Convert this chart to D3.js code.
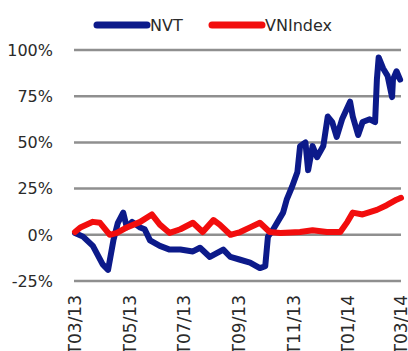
<!DOCTYPE html>
<html>
<head>
<meta charset="utf-8">
<script src="https://cdn.jsdelivr.net/npm/d3@7"></script>
<style>
  body { margin: 0; background: #fff; }
  text { font-family: "DejaVu Sans", sans-serif; fill: #2a2a2a; }
</style>
</head>
<body>
<script>
  // series values, % change since start
  var nvtDates = ["2013-03-01","2013-03-10","2013-03-21","2013-04-01","2013-04-07","2013-04-13","2013-04-18","2013-04-24","2013-04-28","2013-05-04","2013-05-13","2013-05-18","2013-05-24","2013-06-04","2013-06-15","2013-06-27","2013-07-11","2013-07-19","2013-07-30","2013-08-14","2013-08-22","2013-09-02","2013-09-13","2013-09-24","2013-09-30","2013-10-03","2013-10-09","2013-10-20","2013-10-24","2013-10-30","2013-11-05","2013-11-08","2013-11-14","2013-11-17","2013-11-22","2013-11-27","2013-12-04","2013-12-09","2013-12-14","2013-12-19","2013-12-25","2014-01-03","2014-01-06","2014-01-12","2014-01-17","2014-01-25","2014-01-31","2014-02-02","2014-02-04","2014-02-09","2014-02-14","2014-02-19","2014-02-20","2014-02-24","2014-02-28"];
  var nvtValues = [1,-1,-6,-16,-19,-3,6.5,12,4,7,4,3,-3,-6,-8,-8,-9,-7,-12,-8,-12,-13.5,-15,-18,-17,-1,3,12,19,26,34,48,50,35,48,42,48,64,61,53,62.5,72,64,54,61,62.5,61,84,96,90,86,74.5,84,88.5,84];

  var vniDates = ["2013-03-01","2013-03-07","2013-03-21","2013-03-29","2013-04-09","2013-04-17","2013-04-28","2013-05-13","2013-05-26","2013-06-04","2013-06-15","2013-06-27","2013-07-11","2013-07-22","2013-08-03","2013-08-10","2013-08-22","2013-09-02","2013-09-13","2013-09-24","2013-10-05","2013-10-17","2013-11-08","2013-11-22","2013-12-08","2013-12-23","2013-12-31","2014-01-06","2014-01-17","2014-02-02","2014-02-13","2014-02-24","2014-03-01"];
  var vniValues = [1.5,4,7,6.5,0,1,4,7,11,5.5,1,3,6.5,1.5,8,5.5,0,1.5,4,6.5,1.5,1,1.5,2.5,1.5,1.5,7,12,11,13.5,16,19,20];

  var yTicks = [-25,0,25,50,75,100];
  var xTicks = ["2013-03-01","2013-05-01","2013-07-01","2013-09-01","2013-11-01","2014-01-01","2014-03-01"];
  var seriesNames = ["NVT","VNIndex"];
  var colors = ["#0c1a8a","#f20d0d"];

  var width = 408, height = 351;
  var parse = d3.timeParse("%Y-%m-%d");

  var svg = d3.select("body").append("svg")
    .attr("width", width)
    .attr("height", height);

  var xScale = d3.scaleTime()
    .domain([parse("2013-03-01"), parse("2014-03-01")])
    .range([75, 401]);
  var yScale = d3.scaleLinear().domain([-25,100]).range([281,50]);

  // gridlines
  svg.append("g").selectAll("line")
    .data(yTicks)
    .enter().append("line")
    .attr("x1", 74).attr("x2", 401)
    .attr("y1", function(d){ return yScale(d); })
    .attr("y2", function(d){ return yScale(d); })
    .attr("stroke", "#8f8f8f")
    .attr("stroke-width", 2.5);

  // y labels
  svg.append("g").selectAll("text")
    .data(yTicks)
    .enter().append("text")
    .attr("x", 53)
    .attr("y", function(d){ return yScale(d); })
    .attr("dy", "0.36em")
    .attr("text-anchor", "end")
    .attr("font-size", "16px")
    .text(function(d){ return d + "%"; });

  // x labels, rotated
  var fmt = d3.timeFormat("T%m/%y");
  svg.append("g").selectAll("text")
    .data(xTicks.map(parse))
    .enter().append("text")
    .attr("transform", function(d){ return "translate(" + xScale(d) + ",295) rotate(-90)"; })
    .attr("dy", "0.36em")
    .attr("text-anchor", "end")
    .attr("font-size", "17px")
    .text(function(d){ return fmt(d); });

  var line = d3.line()
    .x(function(d){ return xScale(d[0]); })
    .y(function(d){ return yScale(d[1]); });

  var nvt = nvtDates.map(function(d, i){ return [parse(d), nvtValues[i]]; });
  var vni = vniDates.map(function(d, i){ return [parse(d), vniValues[i]]; });

  [nvt, vni].forEach(function(s, i) {
    svg.append("path")
      .datum(s)
      .attr("d", line)
      .attr("fill", "none")
      .attr("stroke", colors[i])
      .attr("stroke-width", 6)
      .attr("stroke-linejoin", "round")
      .attr("stroke-linecap", "round");
  });

  // legend
  var legX = [97, 212];
  var leg = svg.append("g").selectAll("g")
    .data(seriesNames)
    .enter().append("g")
    .attr("transform", function(d, i){ return "translate(" + legX[i] + ",25)"; });
  leg.append("line")
    .attr("x1", 0).attr("x2", 50)
    .attr("stroke", function(d, i){ return colors[i]; })
    .attr("stroke-width", 7)
    .attr("stroke-linecap", "round");
  leg.append("text")
    .attr("x", 53)
    .attr("dy", "0.36em")
    .attr("font-size", "16px")
    .text(function(d){ return d; });
</script>
</body>
</html>
